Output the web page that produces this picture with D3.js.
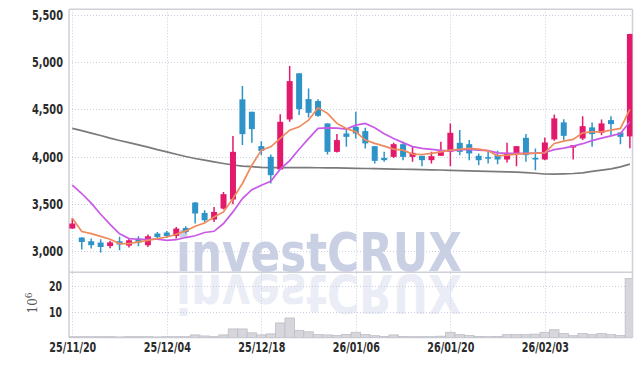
<!DOCTYPE html>
<html><head><meta charset="utf-8">
<script src="https://cdn.jsdelivr.net/npm/d3@7"></script>
<style>html,body{margin:0;padding:0;background:#fff;}svg{display:block;}</style>
</head><body>
<svg id="c" width="642" height="366"></svg>
<script>
const dates = ["25/11/20","25/11/21","25/11/24","25/11/25","25/11/26","25/11/27","25/11/28","25/12/01","25/12/02","25/12/03",
"25/12/04","25/12/05","25/12/08","25/12/09","25/12/10","25/12/11","25/12/12","25/12/15","25/12/16","25/12/17",
"25/12/18","25/12/19","25/12/22","25/12/23","25/12/24","25/12/26","25/12/29","25/12/30","26/01/02","26/01/05",
"26/01/06","26/01/07","26/01/08","26/01/09","26/01/12","26/01/13","26/01/14","26/01/15","26/01/16","26/01/19",
"26/01/20","26/01/21","26/01/22","26/01/23","26/01/26","26/01/27","26/01/28","26/01/29","26/01/30","26/02/02",
"26/02/03","26/02/04","26/02/05","26/02/06","26/02/09","26/02/10","26/02/11","26/02/12","26/02/13","26/02/19"];
const opens  = [3242,3147,3108,3094,3057,3108,3062,3136,3066,3189,3200,3164,3248,3517,3407,3337,3453,3549,4606,4475,4112,3999,3866,4394,4881,4609,4588,4352,4052,4246,4316,4271,4112,3988,3999,4133,3999,4010,3964,4010,4052,4147,4133,4010,3996,4017,3971,4035,4200,3988,3971,4183,4363,4098,4193,4310,4253,4387,4257,4215];
const highs  = [3351,3150,3136,3130,3113,3156,3143,3160,3178,3206,3217,3259,3266,3523,3436,3470,3629,4218,4746,4475,4165,4024,4450,4958,4881,4722,4606,4352,4239,4299,4475,4306,4112,4052,4147,4158,4105,4010,4052,4158,4352,4283,4176,4035,4052,4063,4147,4112,4239,4088,4204,4447,4397,4123,4429,4363,4394,4429,4257,5300];
const lows   = [3240,3020,3030,2990,3033,3014,3041,3054,3047,3136,3146,3136,3189,3295,3312,3312,3443,3499,4123,4147,4017,3718,3860,4369,4440,4415,4422,4024,4045,4105,4193,4088,3929,3946,3988,3964,3946,3901,3929,4010,3901,4017,3964,3911,3929,3922,3939,3901,3946,3858,3964,4168,4176,3971,4176,4105,4228,4228,4133,4091];
const closes = [3295,3100,3066,3047,3096,3073,3118,3094,3160,3153,3164,3242,3206,3401,3330,3418,3605,4052,4239,4292,4062,3805,4369,4799,4503,4464,4432,4052,4176,4210,4246,4141,3957,3964,4133,3999,4041,3964,4006,4059,4253,4052,4035,3964,3982,3971,4041,4112,4017,3971,4151,4405,4221,4123,4323,4239,4352,4345,4210,5296];
const ma5   = [3351,3211,3189,3160,3129,3083,3083,3101,3118,3136,3153,3182,3217,3266,3301,3365,3418,3559,3718,3911,4070,4105,4193,4281,4316,4387,4517,4458,4352,4299,4263,4176,4141,4112,4080,4070,4028,4024,4035,4052,4070,4077,4088,4080,4063,4010,4017,4028,4033,4038,4041,4141,4165,4183,4253,4263,4263,4281,4299,4500];
const ma20  = [3700,3612,3510,3393,3287,3187,3136,3129,3129,3129,3118,3124,3147,3166,3200,3213,3295,3418,3559,3652,3700,3742,3869,3959,4080,4191,4299,4306,4302,4292,4334,4352,4306,4244,4193,4149,4107,4088,4077,4068,4062,4073,4077,4070,4065,4041,4036,4035,4035,4038,4045,4075,4091,4112,4138,4170,4196,4221,4246,4369];
const ma120 = [4299,4276,4250,4225,4197,4172,4149,4125,4101,4075,4052,4027,4003,3982,3964,3946,3929,3913,3902,3895,3887,3886,3885,3885,3885,3885,3884,3883,3882,3880,3878,3876,3874,3872,3870,3868,3866,3864,3862,3860,3856,3854,3851,3848,3845,3843,3841,3838,3832,3826,3818,3817,3819,3823,3830,3845,3858,3872,3893,3922];
const volumes = [0.3,0.3,0.3,0.3,0.3,0.2,0.3,0.3,0.3,0.2,0.3,0.3,0.3,1.0,0.6,0.3,1.0,3.3,3.3,1.8,1.0,1.4,5.6,7.5,2.7,2.2,1.1,1.0,0.8,1.2,2.0,1.1,0.7,0.4,1.0,0.4,0.3,0.3,0.3,0.5,2.0,1.1,0.8,0.4,0.3,0.4,1.1,1.1,1.1,1.3,2.0,3.0,1.5,0.7,1.5,1.1,1.5,1.1,0.8,22.7];
const priceTicks = [3000,3500,4000,4500,5000,5500];
const volTicks = [10,20];
const dateTickLabels = ["25/11/20","25/12/04","25/12/18","26/01/06","26/01/20","26/02/03"];

const svg = d3.select("#c");
const L = 69, R = 632.5, T = 9.3, MB = 272.3, VB = 337.5;
const idx = d3.range(dates.length);
const x = d3.scalePoint().domain(dates).range([72.3, 629.9]);
const y = d3.scaleLinear().domain([2780, 5557]).range([MB, T]);
const yv = d3.scaleLinear().domain([0, 25.1]).range([VB, MB]);
const gridCol = "#c9cee0", axisFont = "'DejaVu Sans Condensed','DejaVu Sans',sans-serif";

const defs = svg.append("defs");
defs.append("clipPath").attr("id","cm").append("rect").attr("x",L).attr("y",T).attr("width",R-L).attr("height",MB-T);
defs.append("clipPath").attr("id","cv").append("rect").attr("x",L).attr("y",MB+1).attr("width",R-L).attr("height",VB-MB-1);

// watermark (reflection drawn as a flipped copy inside the volume panel)
const wm = svg.append("g");
wm.append("text").attr("x",176).attr("y",271).attr("font-family","'DejaVu Sans',sans-serif").attr("font-weight","bold")
  .attr("font-size",54).attr("textLength",286).attr("lengthAdjust","spacingAndGlyphs").attr("fill","#c9d0e4").text("investCRUX");
wm.append("g").attr("clip-path","url(#cv)").append("text").attr("x",176).attr("y",271)
  .attr("transform","translate(0,545.6) scale(1,-1)")
  .attr("font-family","'DejaVu Sans',sans-serif").attr("font-weight","bold")
  .attr("font-size",54).attr("textLength",286).attr("lengthAdjust","spacingAndGlyphs").attr("fill","#c9d0e4").attr("opacity",0.38).text("investCRUX");

// grid
const grid = svg.append("g").attr("stroke",gridCol).attr("stroke-width",1).attr("stroke-dasharray","1,2").attr("fill","none");
priceTicks.forEach(t => grid.append("line").attr("x1",L).attr("x2",R).attr("y1",Math.round(y(t))+0.5).attr("y2",Math.round(y(t))+0.5));
volTicks.forEach(t => grid.append("line").attr("x1",L).attr("x2",R).attr("y1",Math.round(yv(t))+0.5).attr("y2",Math.round(yv(t))+0.5));
dateTickLabels.forEach(d => grid.append("line").attr("x1",Math.round(x(d))+0.5).attr("x2",Math.round(x(d))+0.5).attr("y1",T).attr("y2",VB));

// frame
const fr = svg.append("g").attr("stroke","#cfd0d8").attr("fill","none");
fr.append("line").attr("x1",L).attr("x2",R).attr("y1",T).attr("y2",T).attr("stroke-width",1.5);
fr.append("line").attr("x1",L).attr("x2",L).attr("y1",T).attr("y2",VB).attr("stroke-width",1.5);
fr.append("line").attr("x1",R).attr("x2",R).attr("y1",T).attr("y2",VB).attr("stroke-width",1.5);
fr.append("line").attr("x1",L).attr("x2",R).attr("y1",MB).attr("y2",MB).attr("stroke-width",1.5);
fr.append("line").attr("x1",L).attr("x2",R).attr("y1",VB).attr("y2",VB).attr("stroke-width",1.5);

// volume bars
const bw = x.step();
svg.append("g").attr("clip-path","url(#cv)").selectAll("rect").data(idx).join("rect")
  .attr("x", i => x(dates[i]) - bw/2).attr("width", bw)
  .attr("y", i => yv(volumes[i])).attr("height", i => yv(0) - yv(volumes[i]))
  .attr("fill","#d6d6dc").attr("stroke","#bdbdc6").attr("stroke-width",0.8);

// MA lines
const lineGen = arr => d3.line().x(i => x(dates[i])).y(i => y(arr[i]))(idx);
const lg = svg.append("g").attr("clip-path","url(#cm)").attr("fill","none");
lg.append("path").attr("d", lineGen(ma120)).attr("stroke","#7a7a7a").attr("stroke-width",1.7);

// candles
const up = "#e3196b", dn = "#2e94c8";
const cg = svg.append("g").attr("clip-path","url(#cm)");
const cw = 6;
idx.forEach(i => {
  const col = closes[i] >= opens[i] ? up : dn;
  const cx = x(dates[i]);
  cg.append("line").attr("x1",cx).attr("x2",cx).attr("y1",y(highs[i])).attr("y2",y(lows[i])).attr("stroke",col).attr("stroke-width",1.5);
  const top = y(Math.max(opens[i],closes[i])), bot = y(Math.min(opens[i],closes[i]));
  cg.append("rect").attr("x",cx-cw/2).attr("width",cw).attr("y",top).attr("height",Math.max(1.5,bot-top)).attr("fill",col);
});

const lg2 = svg.append("g").attr("clip-path","url(#cm)").attr("fill","none");
lg2.append("path").attr("d", lineGen(ma20)).attr("stroke","#c95ae6").attr("stroke-width",1.7);
lg2.append("path").attr("d", lineGen(ma5)).attr("stroke","#ef8a5c").attr("stroke-width",1.7);

// axis labels
function styleAxis(g, len) {
  g.select(".domain").remove();
  g.selectAll("text").attr("font-family",axisFont).attr("font-size",14).attr("font-weight","bold").attr("fill","#2b2b2b")
    .attr("textLength", len).attr("lengthAdjust","spacingAndGlyphs");
}
const ya = svg.append("g").attr("transform",`translate(${L},0)`)
  .call(d3.axisLeft(y).tickValues(priceTicks).tickFormat(d3.format(",")).tickSize(0).tickPadding(6));
styleAxis(ya, 31);
const va = svg.append("g").attr("transform",`translate(${L},0)`)
  .call(d3.axisLeft(yv).tickValues(volTicks).tickSize(0).tickPadding(7));
styleAxis(va, 13);
const xa = svg.append("g").attr("transform",`translate(0,${VB})`)
  .call(d3.axisBottom(x).tickValues(dateTickLabels).tickSize(0).tickPadding(5));
styleAxis(xa, 47);

// 10^6 unit label
const ul = svg.append("text").attr("transform","translate(37,303) rotate(-90)").attr("text-anchor","middle")
  .attr("font-family","'DejaVu Serif',serif").attr("font-size",12).attr("fill","#555");
ul.append("tspan").text("10");
ul.append("tspan").attr("dy",-5).attr("font-size",9).text("6");
</script>
</body></html>
